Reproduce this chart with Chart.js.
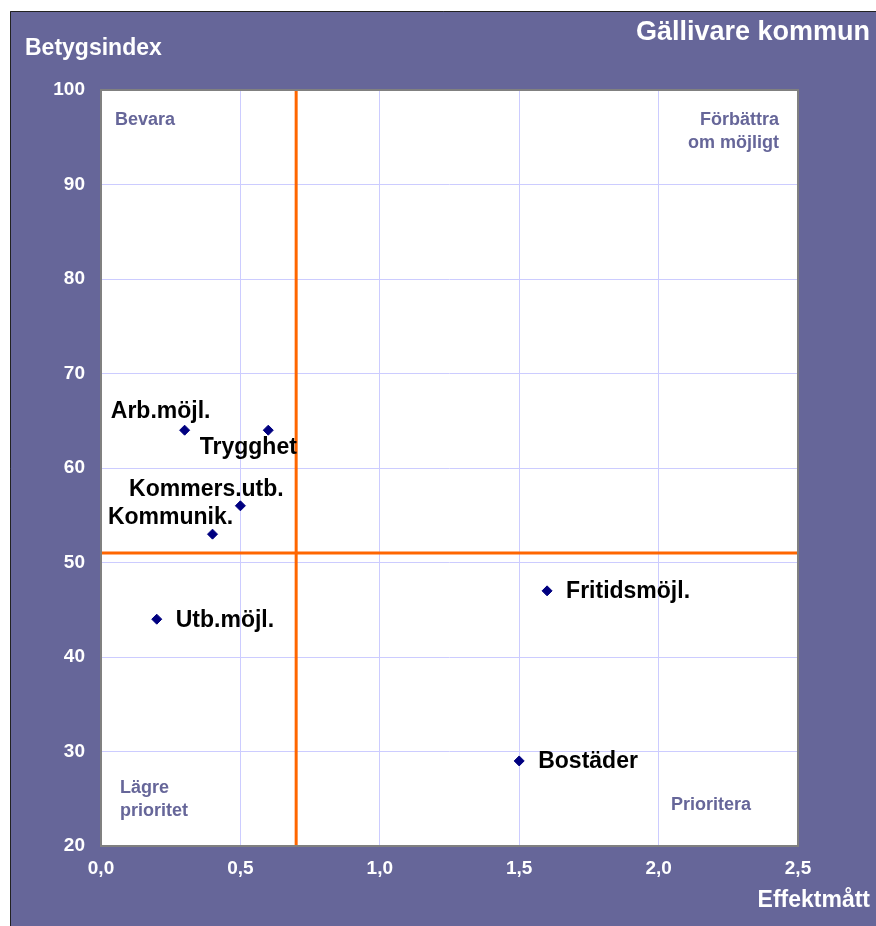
<!DOCTYPE html>
<html>
<head>
<meta charset="utf-8">
<script src="https://cdn.jsdelivr.net/npm/chart.js@4"></script>
<style>
  html, body { margin: 0; padding: 0; background: #fff; }
  #wrap { width: 876px; height: 926px; }
</style>
</head>
<body>
<div id="wrap"><canvas id="chart" width="876" height="926"></canvas></div>
<script>
// data
const areas = ["Arb.möjl.", "Trygghet", "Kommers.utb.", "Kommunik.", "Utb.möjl.", "Fritidsmöjl.", "Bostäder"];
const effekt = [0.3, 0.6, 0.5, 0.4, 0.2, 1.6, 1.5];
const betyg = [64, 64, 56, 53, 44, 47, 29];
const splitX = 0.7;
const splitY = 51;

// where each label sits relative to its point
const labelPlace = {
  "Arb.möjl.": { align: "center", dx: -24, dy: -19 },
  "Trygghet": { align: "center", dx: -20, dy: 17 },
  "Kommers.utb.": { align: "center", dx: -34, dy: -16 },
  "Kommunik.": { align: "center", dx: -42, dy: -16 },
  "Utb.möjl.": { align: "left", dx: 19, dy: 1 },
  "Fritidsmöjl.": { align: "left", dx: 19, dy: 1 },
  "Bostäder": { align: "left", dx: 19, dy: 1 }
};

const purple = "#666699";
const font = "Arial, 'Liberation Sans', sans-serif";

const decor = {
  id: "decor",
  beforeDraw(chart) {
    const ctx = chart.ctx;
    const a = chart.chartArea;
    ctx.save();
    ctx.fillStyle = "#fff";
    ctx.fillRect(0, 0, chart.width, chart.height);
    ctx.fillStyle = purple;
    ctx.fillRect(10, 11, chart.width - 10, chart.height - 11);
    ctx.strokeStyle = "#222";
    ctx.lineWidth = 1;
    ctx.beginPath();
    ctx.moveTo(10.5, chart.height);
    ctx.lineTo(10.5, 11.5);
    ctx.lineTo(chart.width, 11.5);
    ctx.stroke();
    ctx.fillStyle = "#fff";
    ctx.fillRect(a.left, a.top, a.right - a.left, a.bottom - a.top);

    ctx.fillStyle = "#fff";
    ctx.font = "bold 27px " + font;
    ctx.textBaseline = "middle";
    ctx.textAlign = "right";
    ctx.fillText("Gällivare kommun", 870, 33);
    ctx.font = "bold 23px " + font;
    ctx.fillText("Effektmått", 870, 901);
    ctx.textAlign = "left";
    ctx.fillText("Betygsindex", 25, 49);
    ctx.restore();
  },
  afterDraw(chart) {
    const ctx = chart.ctx;
    const a = chart.chartArea;
    ctx.save();
    ctx.strokeStyle = "#808080";
    ctx.lineWidth = 2;
    ctx.strokeRect(a.left, a.top, a.right - a.left, a.bottom - a.top);

    ctx.fillStyle = purple;
    ctx.font = "bold 18px " + font;
    ctx.textBaseline = "middle";
    ctx.textAlign = "left";
    ctx.fillText("Bevara", 115, 120);
    ctx.fillText("Lägre", 120, 788);
    ctx.fillText("prioritet", 120, 811);
    ctx.fillText("Prioritera", 671, 805);
    ctx.textAlign = "right";
    ctx.fillText("Förbättra", 779, 120);
    ctx.fillText("om möjligt", 779, 143);

    const meta = chart.getDatasetMeta(2);
    ctx.fillStyle = "#000";
    ctx.font = "bold 23px " + font;
    meta.data.forEach((pt, i) => {
      const p = labelPlace[areas[i]];
      ctx.textAlign = p.align;
      ctx.fillText(areas[i], pt.x + p.dx, pt.y + p.dy);
    });
    ctx.restore();
  }
};

const tickFont = { family: font, size: 19, weight: "bold" };

new Chart(document.getElementById("chart").getContext("2d"), {
  type: "scatter",
  data: {
    datasets: [
      {
        type: "line",
        data: [{ x: splitX, y: 20 }, { x: splitX, y: 100 }],
        borderColor: "#ff6600",
        borderWidth: 3,
        pointRadius: 0
      },
      {
        type: "line",
        data: [{ x: 0, y: splitY }, { x: 2.5, y: splitY }],
        borderColor: "#ff6600",
        borderWidth: 3,
        pointRadius: 0
      },
      {
        data: effekt.map((v, i) => ({ x: v, y: betyg[i] })),
        pointStyle: "rectRot",
        pointRadius: 5,
        backgroundColor: "#000080",
        borderColor: "#000080"
      }
    ]
  },
  options: {
    responsive: false,
    animation: false,
    layout: { padding: { top: 90, right: 78, left: 0, bottom: 0 } },
    plugins: { legend: { display: false }, tooltip: { enabled: false } },
    scales: {
      x: {
        type: "linear",
        min: 0,
        max: 2.5,
        ticks: {
          stepSize: 0.5,
          color: "#fff",
          font: tickFont,
          padding: 11,
          callback: v => v.toFixed(1).replace(".", ",")
        },
        grid: { color: "#ccccff", drawTicks: false },
        border: { display: false },
        afterFit: s => { s.height = 80; }
      },
      y: {
        min: 20,
        max: 100,
        ticks: { stepSize: 10, color: "#fff", font: tickFont, padding: 16 },
        grid: { color: "#ccccff", drawTicks: false },
        border: { display: false },
        afterFit: s => { s.width = 101; }
      }
    }
  },
  plugins: [decor]
});
</script>
</body>
</html>
